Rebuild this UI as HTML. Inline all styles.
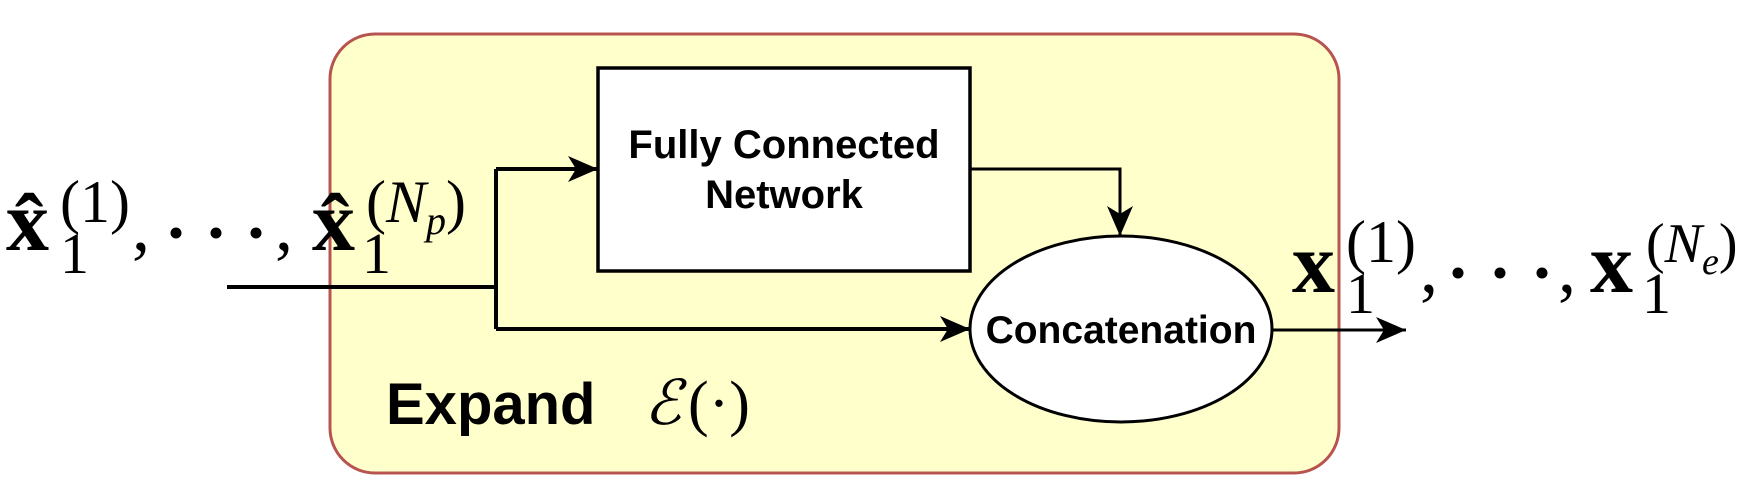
<!DOCTYPE html>
<html><head><meta charset="utf-8"><style>
html,body{margin:0;padding:0;background:#fff;}
svg{display:block;}
.s{font-family:"Liberation Serif",serif;}
.a{font-family:"Liberation Sans",sans-serif;font-weight:bold;}
</style></head><body>
<svg width="1751" height="482" viewBox="0 0 1751 482" xmlns="http://www.w3.org/2000/svg">
<defs>
<marker id="ar" markerWidth="32" markerHeight="26" refX="30" refY="13" orient="auto" markerUnits="userSpaceOnUse">
<path d="M0,0 L30,13 L0,26 L8,13 Z" fill="#000"/>
</marker>
</defs>
<rect x="330" y="34" width="1009" height="439" rx="45" ry="45" fill="#ffffcc" stroke="#b85450" stroke-width="3"/>
<rect x="598" y="68" width="372" height="203" fill="#fff" stroke="#000" stroke-width="3.5"/>
<text class="a" x="784" y="158" font-size="40" text-anchor="middle">Fully Connected</text>
<text class="a" x="784" y="208" font-size="40" text-anchor="middle">Network</text>
<ellipse cx="1121" cy="329" rx="151" ry="93" fill="#fff" stroke="#000" stroke-width="3"/>
<text class="a" x="1121" y="343" font-size="39" text-anchor="middle">Concatenation</text>
<g stroke="#000" stroke-width="4" fill="none">
<line x1="227" y1="287" x2="496" y2="287"/>
<line x1="496" y1="169" x2="496" y2="329"/>
<line x1="496" y1="169" x2="598" y2="169" marker-end="url(#ar)"/>
<line x1="496" y1="329" x2="970" y2="329" marker-end="url(#ar)"/>
<polyline points="970,169 1120,169 1120,236" marker-end="url(#ar)" stroke-width="3"/>
<line x1="1272" y1="330" x2="1406" y2="330" marker-end="url(#ar)" stroke-width="3"/>
</g>
<text class="a" x="386" y="424" font-size="58">Expand</text>
<text class="s" x="644" y="424" font-size="62" font-style="italic">ℰ</text>
<text class="s" x="688" y="424" font-size="62">(·)</text>
<!-- left math -->
<g class="s">
<text x="6" y="250" font-size="86" font-weight="bold">x̂</text>
<text x="60" y="222" font-size="60">(1)</text>
<text x="60" y="273" font-size="58">1</text>
<text x="132" y="250" font-size="72">,</text>
<circle cx="176" cy="233" r="5.5" fill="#000"/>
<circle cx="216" cy="233" r="5.5" fill="#000"/>
<circle cx="256" cy="233" r="5.5" fill="#000"/>
<text x="275" y="250" font-size="72">,</text>
<text x="312" y="250" font-size="86" font-weight="bold">x̂</text>
<text x="362" y="273" font-size="58">1</text>
<text x="366" y="222" font-size="60">(<tspan font-style="italic">N</tspan><tspan font-style="italic" font-size="40" dy="12">p</tspan><tspan dy="-12">)</tspan></text>
</g>
<!-- right math -->
<g class="s">
<text x="1292" y="292" font-size="86" font-weight="bold">x</text>
<text x="1346" y="262" font-size="60">(1)</text>
<text x="1346" y="313" font-size="58">1</text>
<text x="1420" y="292" font-size="72">,</text>
<circle cx="1458" cy="273" r="5.5" fill="#000"/>
<circle cx="1500" cy="273" r="5.5" fill="#000"/>
<circle cx="1542" cy="273" r="5.5" fill="#000"/>
<text x="1558" y="292" font-size="72">,</text>
<text x="1590" y="292" font-size="86" font-weight="bold">x</text>
<text x="1642" y="313" font-size="58">1</text>
<text x="1646" y="262" font-size="56">(<tspan font-style="italic">N</tspan><tspan font-style="italic" font-size="38" dy="12">e</tspan><tspan dy="-12">)</tspan></text>
</g>
</svg>
</body></html>
